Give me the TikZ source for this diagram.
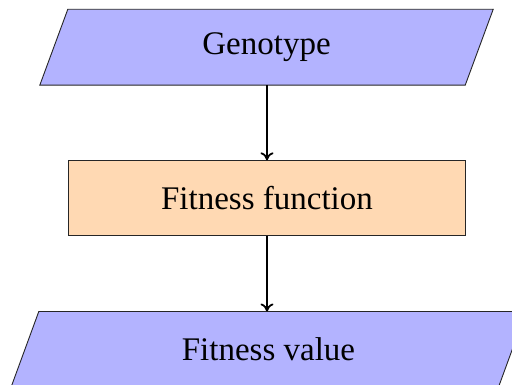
\documentclass[tikz,border=0pt]{standalone}
\usepackage{fontspec}
\setmainfont{Liberation Serif}
\usetikzlibrary{arrows.meta,backgrounds}
\definecolor{ioblue}{RGB}{179,179,255}
\definecolor{procorange}{RGB}{255,217,179}
\tikzset{
  iobox/.style={rectangle, inner sep=0pt, minimum height=75.5pt,
    font=\fontsize{33}{40}\selectfont},
  ioshape/.style={draw=black!85, line width=0.9pt, fill=ioblue, line join=miter},
  procbox/.style={rectangle, draw=black!85, line width=0.9pt, fill=procorange,
    inner sep=0pt, minimum width=397pt, minimum height=75pt,
    font=\fontsize{33}{40}\selectfont},
  flow/.style={-{To[length=8pt,width=13pt,line width=1.8pt]}, line width=1.8pt}
}
\begin{document}
\begin{tikzpicture}[x=1pt,y=-1pt]
\useasboundingbox (0,0) rectangle (512,385);
\node[iobox, minimum width=425pt] (geno) at (266.5,47.25) {Genotype};
\node[procbox] (ff) at (267,198.3) {Fitness function};
\node[iobox, minimum width=487pt, minimum height=76pt] (fv) at (268.5,349.7) {Fitness value};
\begin{pgfonlayer}{background}
\fill[white] (0,0) rectangle (512,385);
\draw[ioshape] ([xshift=14pt]geno.north west) -- ([xshift=14pt]geno.north east)
  -- ([xshift=-14pt]geno.south east) -- ([xshift=-14pt]geno.south west) -- cycle;
\draw[ioshape] ([xshift=14pt]fv.north west) -- ([xshift=14pt]fv.north east)
  -- ([xshift=-14pt]fv.south east) -- ([xshift=-14pt]fv.south west) -- cycle;
\end{pgfonlayer}
\draw[flow] (ff.north |- geno.south) -- (ff.north);
\draw[flow] (ff.south) -- (ff.south |- fv.north);
\end{tikzpicture}
\end{document}
